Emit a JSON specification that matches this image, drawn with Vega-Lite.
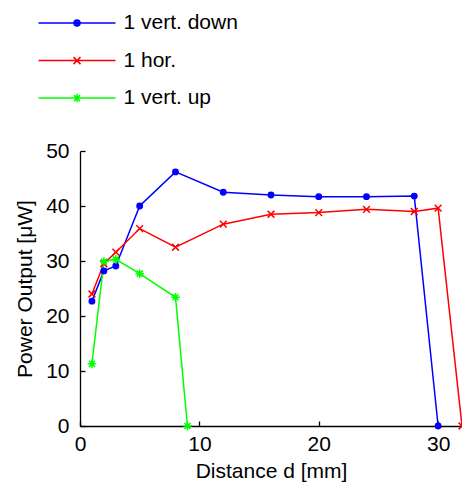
{
  "$schema": "https://vega.github.io/schema/vega-lite/v6.json",
  "width": 382,
  "height": 275,
  "autosize": {"type": "none"},
  "padding": {"left": 80, "top": 151, "right": 0, "bottom": 56},
  "background": "white",
  "config": {
    "view": {"stroke": null},
    "font": "Liberation Sans",
    "axis": {
      "grid": false,
      "domainColor": "#000000",
      "tickColor": "#000000",
      "labelColor": "#000000",
      "titleColor": "#000000",
      "labelFont": "Liberation Sans",
      "titleFont": "Liberation Sans",
      "labelFontSize": 21,
      "titleFontSize": 21,
      "titleFontWeight": "normal",
      "domainWidth": 1.3,
      "tickWidth": 1.3,
      "tickSize": -5,
      "labelFlush": false
    },
    "legend": {
      "orient": "none", "title": null,
      "symbolSize": 100, "symbolStrokeWidth": 1.5, "symbolOpacity": 1,
      "labelFont": "Liberation Sans", "labelFontSize": 21, "labelColor": "#000000",
      "labelOffset": 36, "padding": 0
    }
  },
  "data": {
    "values": [
      {"series": "1 vert. down", "d": 1, "p": 22.7},
      {"series": "1 vert. down", "d": 2, "p": 28.2},
      {"series": "1 vert. down", "d": 3, "p": 29.1},
      {"series": "1 vert. down", "d": 5, "p": 40.0},
      {"series": "1 vert. down", "d": 8, "p": 46.2},
      {"series": "1 vert. down", "d": 12, "p": 42.5},
      {"series": "1 vert. down", "d": 16, "p": 42.0},
      {"series": "1 vert. down", "d": 20, "p": 41.7},
      {"series": "1 vert. down", "d": 24, "p": 41.7},
      {"series": "1 vert. down", "d": 28, "p": 41.8},
      {"series": "1 vert. down", "d": 30, "p": 0},
      {"series": "1 hor.", "d": 1, "p": 24.0},
      {"series": "1 hor.", "d": 2, "p": 29.5},
      {"series": "1 hor.", "d": 3, "p": 31.6},
      {"series": "1 hor.", "d": 5, "p": 35.9},
      {"series": "1 hor.", "d": 8, "p": 32.5},
      {"series": "1 hor.", "d": 12, "p": 36.7},
      {"series": "1 hor.", "d": 16, "p": 38.5},
      {"series": "1 hor.", "d": 20, "p": 38.8},
      {"series": "1 hor.", "d": 24, "p": 39.4},
      {"series": "1 hor.", "d": 28, "p": 39.0},
      {"series": "1 hor.", "d": 30, "p": 39.6},
      {"series": "1 hor.", "d": 32, "p": 0},
      {"series": "1 vert. up", "d": 1, "p": 11.3},
      {"series": "1 vert. up", "d": 2, "p": 29.9},
      {"series": "1 vert. up", "d": 3, "p": 30.3},
      {"series": "1 vert. up", "d": 5, "p": 27.7},
      {"series": "1 vert. up", "d": 8, "p": 23.4},
      {"series": "1 vert. up", "d": 9, "p": 0}
    ]
  },
  "layer": [
    {
      "mark": {"type": "line", "strokeWidth": 1.5},
      "encoding": {
        "x": {
          "field": "d", "type": "quantitative",
          "scale": {"domain": [0, 32], "nice": false},
          "axis": {"values": [0, 10, 20, 30], "title": "Distance d [mm]", "labelPadding": 12, "titlePadding": 6}
        },
        "y": {
          "field": "p", "type": "quantitative",
          "scale": {"domain": [0, 50], "nice": false},
          "axis": {"values": [0, 10, 20, 30, 40, 50], "title": "Power Output [μW]", "labelPadding": 16, "titlePadding": 10}
        },
        "stroke": {
          "field": "series", "type": "nominal",
          "scale": {"domain": ["1 vert. down", "1 hor.", "1 vert. up"], "range": ["#0000ff", "#ff0000", "#00ff00"]},
          "legend": null
        }
      }
    },
    {
      "mark": {"type": "point", "filled": true, "strokeWidth": 1.5, "size": 81, "opacity": 1},
      "encoding": {
        "x": {"field": "d", "type": "quantitative"},
        "y": {"field": "p", "type": "quantitative"},
        "stroke": {
          "field": "series", "type": "nominal",
          "scale": {"domain": ["1 vert. down", "1 hor.", "1 vert. up"], "range": ["#0000ff", "#ff0000", "#00ff00"]},
          "legend": null
        },
        "fill": {
          "field": "series", "type": "nominal",
          "scale": {"domain": ["1 vert. down", "1 hor.", "1 vert. up"], "range": ["#0000ff", "#ff0000", "#00ff00"]},
          "legend": null
        },
        "shape": {
          "field": "series", "type": "nominal",
          "scale": {
            "domain": ["1 vert. down", "1 hor.", "1 vert. up"],
            "range": [
              "M-0.6,0A0.6,0.6 0 1,0 0.6,0A0.6,0.6 0 1,0 -0.6,0Z",
              "M-0.75,-0.75L0.75,0.75M0.75,-0.75L-0.75,0.75",
              "M-0.95,0H0.95M0,-0.95V0.95M-0.67,-0.67L0.67,0.67M0.67,-0.67L-0.67,0.67"
            ]
          },
          "legend": null
        }
      }
    },
    {
      "data": {"values": []},
      "mark": {"type": "point", "strokeWidth": 1.5, "opacity": 1},
      "encoding": {
        "shape": {
          "field": "series", "type": "nominal",
          "scale": {"domain": ["1 vert. down"], "range": ["M-7.7,0H7.7M-0.6,0A0.6,0.6 0 1,0 0.6,0A0.6,0.6 0 1,0 -0.6,0ZM-0.3,0A0.3,0.3 0 1,0 0.3,0A0.3,0.3 0 1,0 -0.3,0ZM-0.1,0A0.1,0.1 0 1,0 0.1,0A0.1,0.1 0 1,0 -0.1,0Z"]},
          "legend": {"legendX": -13.5, "legendY": -138.5, "symbolStrokeColor": "#0000ff", "symbolFillColor": "#0000ff"}
        }
      }
    },
    {
      "data": {"values": []},
      "mark": {"type": "point", "strokeWidth": 1.5, "opacity": 1},
      "encoding": {
        "shape": {
          "field": "series", "type": "nominal",
          "scale": {"domain": ["1 hor."], "range": ["M-7.7,0H7.7M-0.7,-0.7L0.7,0.7M0.7,-0.7L-0.7,0.7"]},
          "legend": {"legendX": -13.5, "legendY": -100.9, "symbolStrokeColor": "#ff0000", "symbolFillColor": "#ff0000"}
        }
      }
    },
    {
      "data": {"values": []},
      "mark": {"type": "point", "strokeWidth": 1.5, "opacity": 1},
      "encoding": {
        "shape": {
          "field": "series", "type": "nominal",
          "scale": {"domain": ["1 vert. up"], "range": ["M-7.7,0H7.7M0,-0.85V0.85M-0.6,-0.6L0.6,0.6M0.6,-0.6L-0.6,0.6"]},
          "legend": {"legendX": -13.5, "legendY": -63.4, "symbolStrokeColor": "#00ff00", "symbolFillColor": "#00ff00"}
        }
      }
    }
  ],
  "resolve": {"scale": {"shape": "independent"}}
}
